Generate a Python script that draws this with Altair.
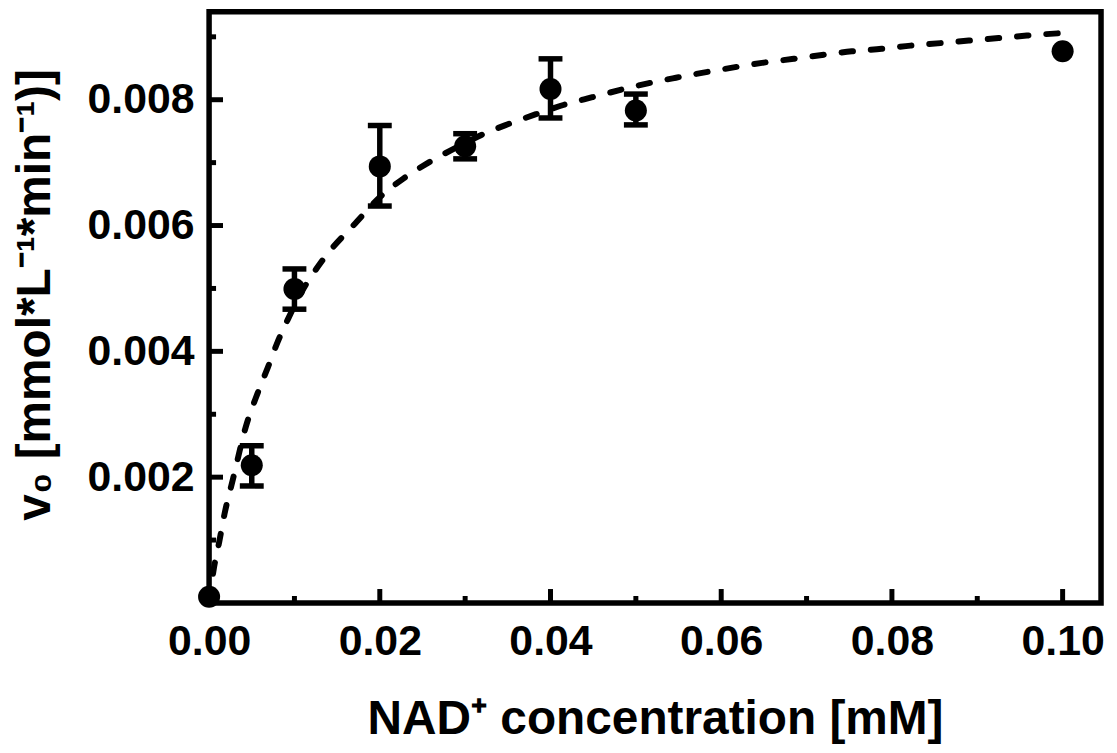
import altair as alt
import pandas as pd

# ---- data ----
conc = [0.0, 0.005, 0.01, 0.02, 0.03, 0.04, 0.05, 0.10]
rate = [0.0001, 0.00219, 0.00499, 0.00694, 0.00726, 0.00817, 0.00783, 0.00877]

err_conc = [0.005, 0.01, 0.02, 0.03, 0.04, 0.05]
err_low = [0.00186, 0.00467, 0.00631, 0.00706, 0.00771, 0.00760]
err_high = [0.00250, 0.00531, 0.00759, 0.00746, 0.00865, 0.00809]

fit_x = [0.0, 0.0005, 0.0012, 0.0018, 0.0028, 0.0043, 0.0057, 0.0069, 0.0080,
         0.0092, 0.0105, 0.0133, 0.0173, 0.0200, 0.0228, 0.0257, 0.0297, 0.0324,
         0.0350, 0.0383, 0.0416, 0.0449, 0.0483, 0.0514, 0.0547, 0.0600, 0.0650,
         0.0685, 0.0718, 0.0753, 0.0788, 0.0822, 0.0857, 0.0890, 0.0925, 0.0958,
         0.1000]
fit_y = [0.0, 0.00050, 0.00098, 0.00141, 0.00197, 0.00280, 0.00334, 0.00375,
         0.00414, 0.00450, 0.00486, 0.00545, 0.00606, 0.00645, 0.00675, 0.00700,
         0.00729, 0.00747, 0.00761, 0.00777, 0.00792, 0.00804, 0.00816, 0.00826,
         0.00835, 0.00848, 0.00859, 0.00865, 0.00871, 0.00877, 0.00881, 0.00886,
         0.00890, 0.00894, 0.00898, 0.00902, 0.00906]

x_labels = [0.0, 0.02, 0.04, 0.06, 0.08, 0.10]
x_major = [0.02, 0.04, 0.06, 0.08, 0.10]
x_minor = [0.01, 0.03, 0.05, 0.07, 0.09]
y_major = [0.002, 0.004, 0.006, 0.008]
y_minor = [0.001, 0.003, 0.005, 0.007, 0.009]

x_title = "NAD⁺ concentration [mM]"
y_title = "v₀ [mmol*L⁻¹*min⁻¹)]"

# ---- layout ----
W, H = 896, 594
FONT = "Liberation Sans"

xs = alt.Scale(domain=[0, 0.1045], nice=False, zero=False)
ys = alt.Scale(domain=[0, 0.0094], nice=False, zero=False)

pts = pd.DataFrame({"c": conc, "v": rate})
err = pd.DataFrame({"c": err_conc, "lo": err_low, "hi": err_high})
fit = pd.DataFrame({"c": fit_x, "v": fit_y})
xmaj = pd.DataFrame({"c": x_major})
xmin = pd.DataFrame({"c": x_minor})
ymaj = pd.DataFrame({"v": y_major})
ymin = pd.DataFrame({"v": y_minor})

x_axis = alt.Axis(values=x_labels, format=".2f", title=x_title, grid=False,
                  domain=False, ticks=False, labelPadding=18,
                  labelFlush=False, labelOverlap=False, titleY=93,
                  titleFontSize=48)
y_axis = alt.Axis(values=y_major, format=".3f", title=y_title, grid=False,
                  domain=False, ticks=False, labelPadding=15,
                  labelFlush=False, labelOverlap=False, titleX=-150, titleY=284,
                  titleFontSize=48)


def X(field):
    return alt.X(field, type="quantitative", scale=xs, axis=x_axis)


def Y(field):
    return alt.Y(field, type="quantitative", scale=ys, axis=y_axis)


points = alt.Chart(pts).mark_circle(size=490, color="black", opacity=1).encode(
    x=X("c"), y=Y("v"))

bars = alt.Chart(err).mark_rule(color="black", strokeWidth=5.5).encode(
    x=X("c"), y=Y("lo"), y2="hi:Q")
cap_lo = alt.Chart(err).mark_tick(color="black", orient="horizontal", size=24,
                                  thickness=5.5, opacity=1).encode(x=X("c"), y=Y("lo"))
cap_hi = alt.Chart(err).mark_tick(color="black", orient="horizontal", size=24,
                                  thickness=5.5, opacity=1).encode(x=X("c"), y=Y("hi"))

curve = alt.Chart(fit).mark_line(color="black", strokeWidth=6, strokeDash=[11.5, 18],
                                 strokeCap="round", interpolate="monotone").encode(
    x=X("c"), y=Y("v"))

xt_major = alt.Chart(xmaj).mark_rule(color="black", strokeWidth=5).encode(
    x=X("c"), y=alt.value(H), y2=alt.value(H - 14))
xt_minor = alt.Chart(xmin).mark_rule(color="black", strokeWidth=5).encode(
    x=X("c"), y=alt.value(H), y2=alt.value(H - 7))
yt_major = alt.Chart(ymaj).mark_rule(color="black", strokeWidth=5).encode(
    y=Y("v"), x=alt.value(0), x2=alt.value(14))
yt_minor = alt.Chart(ymin).mark_rule(color="black", strokeWidth=5).encode(
    y=Y("v"), x=alt.value(0), x2=alt.value(7))

chart = alt.layer(
    points, xt_major, xt_minor, yt_major, yt_minor, curve, bars, cap_lo, cap_hi
).properties(
    width=W, height=H,
    padding={"left": 202, "top": 2, "right": 8, "bottom": 141},
    autosize=alt.AutoSizeParams(type="none"),
    background="white",
).configure_view(
    stroke="black", strokeWidth=5.5, fill="white"
).configure_axis(
    grid=False, domain=False, ticks=False,
    labelFont=FONT, labelFontSize=43, labelFontWeight="bold", labelColor="black",
    titleFont=FONT, titleFontWeight="bold", titleColor="black",
)

chart.save("out.html", embed_options={"renderer": "svg", "actions": False})
